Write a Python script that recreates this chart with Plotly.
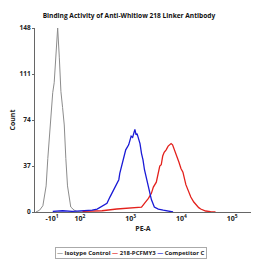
import plotly.graph_objects as go

# Display coordinate on the biexponential PE-A axis (decades)
iso_x = [1.136, 1.208, 1.272, 1.336, 1.369, 1.433, 1.466, 1.495, 1.530, 1.563,
         1.596, 1.627, 1.660, 1.693, 1.724, 1.757, 1.821, 1.887, 1.951, 2.049]
iso_y = [0, 1.5, 5, 21, 43, 80, 96, 104, 124, 148,
         124, 97, 84, 70, 43, 21, 4, 1.5, 0.3, 0]

comp_x = [1.466, 1.660, 1.854, 2.049, 2.243, 2.340, 2.476, 2.534, 2.592, 2.670,
          2.728, 2.767, 2.786, 2.825, 2.864, 2.903, 2.961, 2.981, 3.010, 3.039,
          3.058, 3.083, 3.107, 3.126, 3.155, 3.184, 3.214, 3.243, 3.272, 3.311,
          3.350, 3.408, 3.466, 3.544, 3.641, 3.738, 3.835]
comp_y = [0.5, 1, 0.5, 1, 1.5, 2.4, 5.6, 7, 12, 18,
          23, 26, 31, 38, 44, 50, 54, 58, 61, 60,
          64, 66.5, 62, 63, 59, 55, 47, 42, 34, 27,
          20, 10, 4, 2.4, 1.5, 0.5, 0]

ab_x = [2.049, 2.437, 2.728, 2.922, 3.117, 3.214, 3.272, 3.350, 3.408, 3.447,
        3.505, 3.544, 3.573, 3.602, 3.631, 3.660, 3.699, 3.738, 3.777, 3.796,
        3.825, 3.854, 3.893, 3.951, 3.990, 4.029, 4.087, 4.146, 4.184, 4.243,
        4.282, 4.340, 4.379, 4.476, 4.573, 4.670]
ab_y = [0.5, 1, 2.4, 3, 4, 4, 7, 11, 15, 20,
        24, 32, 37, 38, 45, 48, 50, 53, 54, 55,
        54, 51, 47, 40, 35, 32, 22, 16, 12, 8,
        6, 3.5, 2.4, 0.8, 0.3, 0]

x_tickvals = [1.45, 2, 3, 4, 5]
x_ticktext = ["-10<sup>1</sup>", "10<sup>2</sup>", "10<sup>3</sup>",
              "10<sup>4</sup>", "10<sup>5</sup>"]
y_tickvals = [0, 37, 74, 111, 148]

series = [
    ("Isotype Control", iso_x, iso_y, "#8c8c8c", 1.0),
    ("218-PCFMY3", ab_x, ab_y, "#e3211c", 1.3),
    ("Competitor C", comp_x, comp_y, "#1a1ad6", 1.3),
]

FONT = "Open Sans"
fig = go.Figure()
for name, xs, ys, col, w in series:
    fig.add_trace(go.Scatter(x=xs, y=ys, mode="lines", name=name,
                             line=dict(color=col, width=w), showlegend=False))

legend_text = " ".join(
    f"<span style='color:{col}'>—</span> {name}" for name, _, _, col, _ in series
)

fig.update_layout(
    width=267, height=267,
    margin=dict(l=32, r=16, t=28, b=55),
    paper_bgcolor="white", plot_bgcolor="white",
    font=dict(family=FONT, size=7, color="#222"),
    title=dict(text="Binding Activity of Anti-Whitlow 218 Linker Antibody",
               x=0.483, xref="container", y=1 - 16 / 267, yref="container",
               xanchor="center", yanchor="middle",
               font=dict(family=FONT, size=6.6, color="#111", weight="bold")),
    xaxis=dict(range=[1.117, 5.369], tickvals=x_tickvals, ticktext=x_ticktext,
               showgrid=False, zeroline=False, showline=True, linecolor="#666",
               linewidth=1, ticks="",
               tickfont=dict(family=FONT, size=7, color="#222", weight="bold"),
               title=dict(text="PE-A", standoff=3,
                          font=dict(family=FONT, size=7, color="#222", weight="bold"))),
    yaxis=dict(range=[0, 148], tickvals=y_tickvals,
               showgrid=False, zeroline=False, showline=True, linecolor="#666",
               linewidth=1, ticks="outside", ticklen=2, tickcolor="#666",
               tickfont=dict(family=FONT, size=6.5, color="#222", weight="bold"),
               title=dict(text="Count", standoff=3,
                          font=dict(family=FONT, size=7, color="#222", weight="bold"))),
    annotations=[dict(text=legend_text, xref="paper", yref="paper",
                      x=0.445, y=-0.19, xanchor="center", yanchor="top",
                      showarrow=False, bordercolor="#aaa", borderwidth=1,
                      borderpad=1, bgcolor="white",
                      font=dict(family=FONT, size=6, color="#222", weight="bold"))],
)

fig.write_html("out.html")
